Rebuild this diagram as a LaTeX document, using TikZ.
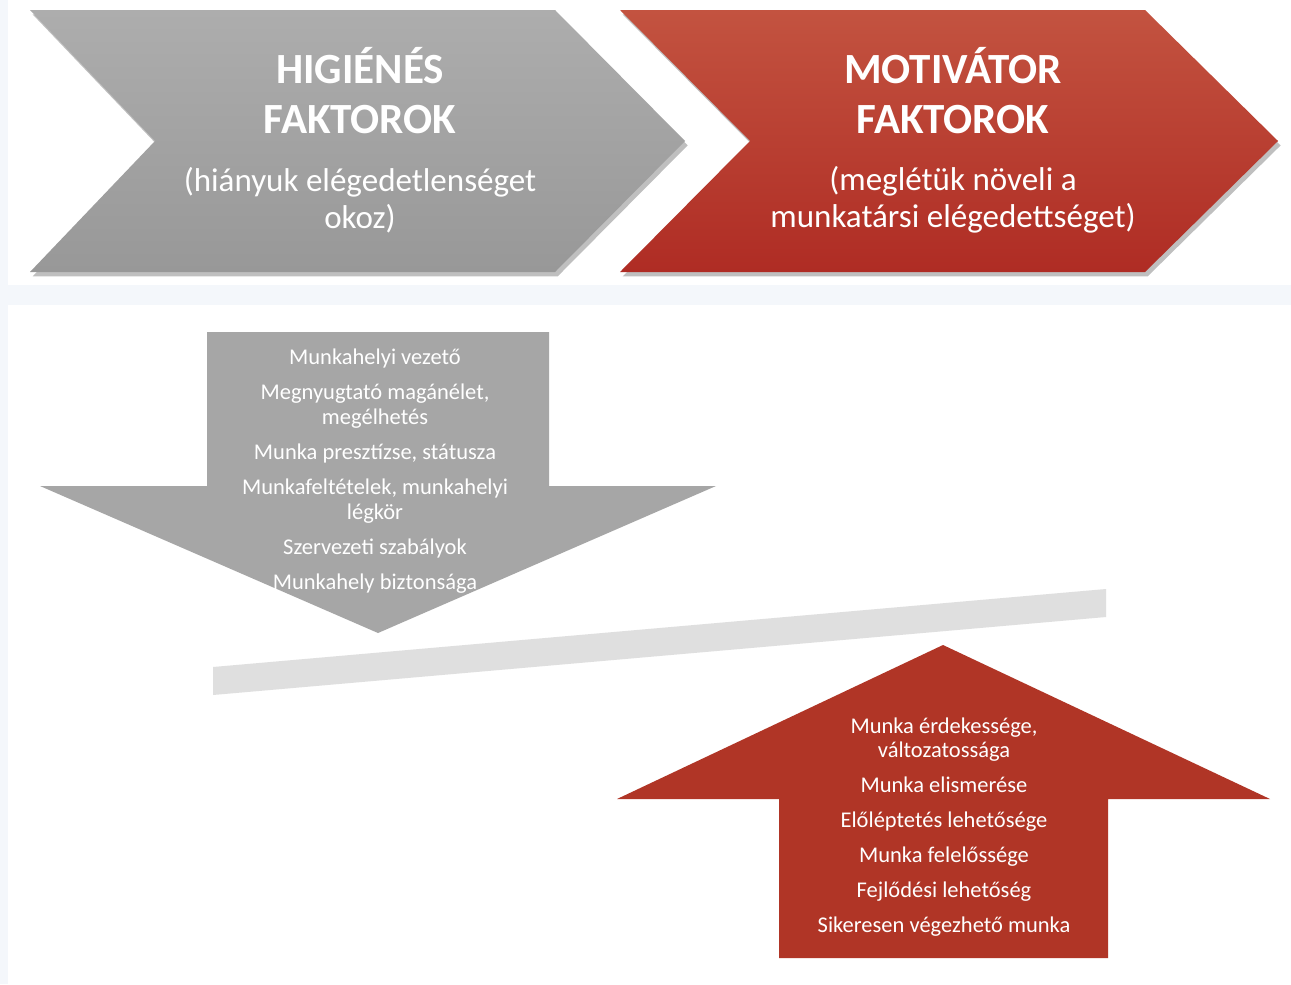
\documentclass[tikz,border=0pt]{standalone}
\usepackage{fontspec}
\setmainfont{Carlito}
\usetikzlibrary{shadows}
\definecolor{hygtop}{HTML}{ADADAD}
\definecolor{hygbot}{HTML}{989898}
\definecolor{mottop}{HTML}{C35340}
\definecolor{motbot}{HTML}{AF2C24}
\definecolor{hygfill}{HTML}{A6A6A6}
\definecolor{motfill}{HTML}{B03526}
\definecolor{beam}{HTML}{DFDFDF}
\definecolor{paper}{HTML}{F4F7FB}
\tikzset{
  chevron/.style={drop shadow={shadow xshift=1.5pt,shadow yshift=-2.5pt,opacity=0.25,fill=black}},
  headline/.style={text=white,align=center,font=\fontsize{24.5}{28.4}\selectfont\bfseries},
  subline/.style={text=white,align=center,font=\fontsize{18.8}{21.2}\selectfont},
  listing/.style={text=white,align=center,font=\fontsize{12.8}{14.2}\selectfont}
}

\begin{document}
\begin{tikzpicture}[x=0.02cm,y=-0.02cm]
	% page background and the two white panels
	\fill[paper] (0,0) rectangle (1291,984);
	\fill[white] (8,0) rectangle (1291,285);
	\fill[white] (8,305) rectangle (1291,984);
	\useasboundingbox (0,0) rectangle (1291,984);

	% chevrons
	\path[chevron,top color=hygtop,bottom color=hygbot]
		(30,10) -- (555,10) -- (685,141) -- (555,272) -- (30,272) -- (155,141) -- cycle;
	\path[chevron,top color=mottop,bottom color=motbot]
		(620,10) -- (1145,10) -- (1278,141) -- (1145,272) -- (620,272) -- (750,141) -- cycle;

	\node[headline] (hygTitle) at (360,91) {HIGIÉNÉS\\FAKTOROK};
	\node[subline] (hygNote) at (360,200) {(hiányuk elégedetlenséget\\okoz)};
	\node[headline] (motTitle) at (953,91) {MOTIVÁTOR\\FAKTOROK};
	\node[subline] (motNote) at (953,200) {(meglétük növeli a\\munkatársi elégedettséget)};

	% the tilted beam
	\fill[beam] (213,667) -- (1106,589) -- (1106,617) -- (213,695) -- cycle;

	% arrow pushing down
	\fill[hygfill] (207,332) -- (549,332) -- (549,486) -- (716,486) -- (378,633)
		-- (40,486) -- (207,486) -- cycle;
	\node[listing] (hygList) at (375,471) {Munkahelyi vezető\\[5.7pt]
		Megnyugtató magánélet,\\megélhetés\\[5.7pt]
		Munka presztízse, státusza\\[5.7pt]
		Munkafeltételek, munkahelyi\\légkör\\[5.7pt]
		Szervezeti szabályok\\[5.7pt]
		Munkahely biztonsága};

	% arrow pushing up
	\fill[motfill] (779,958) -- (1108,958) -- (1108,799) -- (1270,799) -- (943,645)
		-- (617,799) -- (779,799) -- cycle;
	\node[listing] (motList) at (944,827) {Munka érdekessége,\\változatossága\\[5.7pt]
		Munka elismerése\\[5.7pt]
		Előléptetés lehetősége\\[5.7pt]
		Munka felelőssége\\[5.7pt]
		Fejlődési lehetőség\\[5.7pt]
		Sikeresen végezhető munka};
\end{tikzpicture}
\end{document}
